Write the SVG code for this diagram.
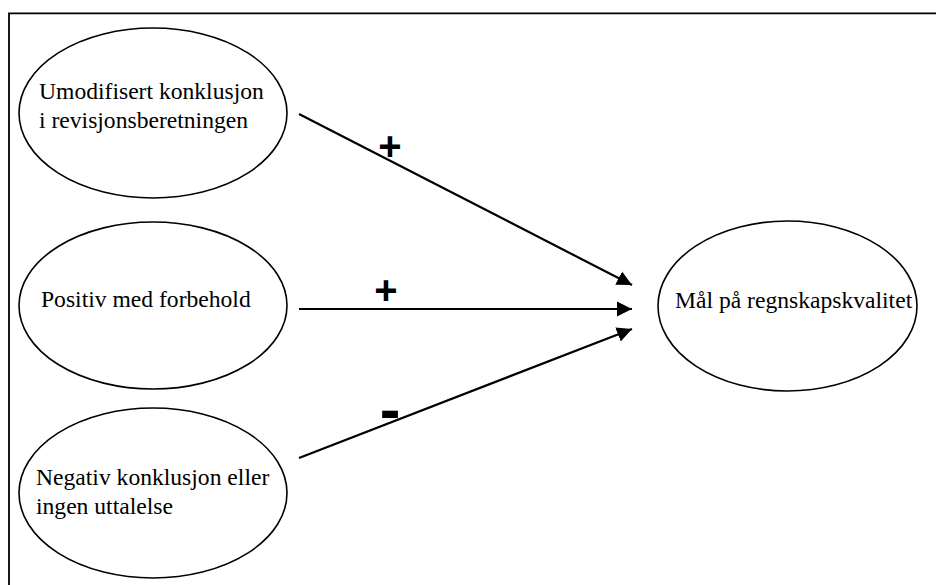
<svg xmlns="http://www.w3.org/2000/svg" width="936" height="585" viewBox="0 0 936 585">
<style>
.node ellipse{fill:#fff;stroke:#000;stroke-width:1.6}
.lbl{font-family:"Liberation Serif","Times New Roman",serif;font-size:23.6px;fill:#000}
.conn line{stroke:#000;stroke-width:2.2;fill:none}
.sign{font-family:"Liberation Sans",Arial,sans-serif;font-weight:bold;font-size:40px;fill:#000;text-anchor:middle}
</style>
<defs>
<marker id="ah" markerUnits="userSpaceOnUse" markerWidth="16" markerHeight="16" viewBox="0 0 16 16" refX="15" refY="8" orient="auto">
<path d="M0,0.5 L15,8 L0,15.5 z" fill="#000"/>
</marker>
</defs>
<rect width="936" height="585" fill="#fff"/>
<path d="M9,585 V13.3 H936" fill="none" stroke="#000" stroke-width="1.8"/>
<g id="n1" class="node">
<ellipse cx="153" cy="113" rx="134" ry="85"/>
<text class="lbl" x="39" y="99">Umodifisert konklusjon</text>
<text class="lbl" x="39" y="128">i revisjonsberetningen</text>
</g>
<g id="n2" class="node">
<ellipse cx="153" cy="305.5" rx="134" ry="83.5"/>
<text class="lbl" x="41" y="307">Positiv med forbehold</text>
</g>
<g id="n3" class="node">
<ellipse cx="153" cy="493" rx="134" ry="85"/>
<text class="lbl" x="36" y="485">Negativ konklusjon eller</text>
<text class="lbl" x="36" y="514">ingen uttalelse</text>
</g>
<g id="n4" class="node">
<ellipse cx="787.5" cy="306" rx="129.5" ry="85"/>
<text class="lbl" x="675" y="308">Mål på regnskapskvalitet</text>
</g>
<g id="connectors" class="conn">
<line x1="299" y1="114" x2="632" y2="285" marker-end="url(#ah)"/>
<line x1="299" y1="309" x2="632" y2="309" marker-end="url(#ah)"/>
<line x1="299" y1="458" x2="632" y2="329" marker-end="url(#ah)"/>
</g>
<g id="signs">
<text class="sign" x="390" y="160">+</text>
<text class="sign" x="386" y="304">+</text>
<text class="sign" x="390" y="430" style="font-size:62px">-</text>
</g>
</svg>
